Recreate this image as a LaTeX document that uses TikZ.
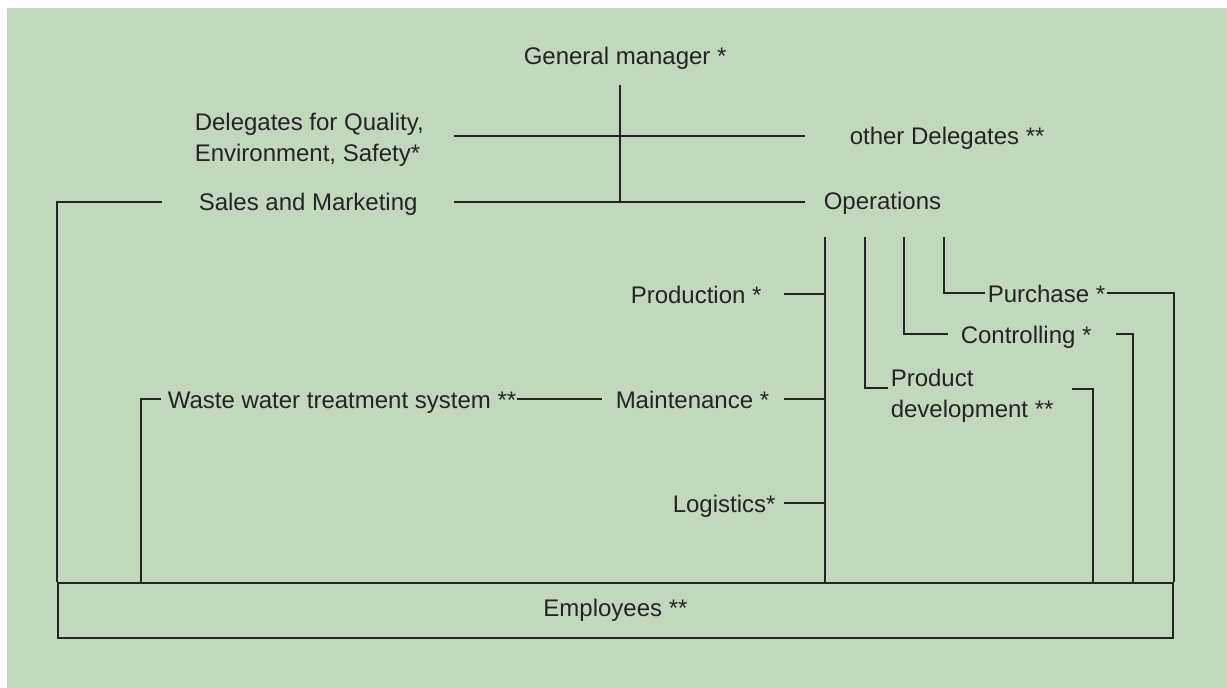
\documentclass[tikz,border=0pt]{standalone}
\usepackage{fontspec}
\setmainfont{Liberation Sans}
\usepackage{tikz}
\usetikzlibrary{positioning,calc}

\definecolor{bggreen}{RGB}{193,216,189}
\definecolor{ink}{RGB}{36,36,36}

\begin{document}
\begin{tikzpicture}[x=1bp,y=-1bp,
	line width=1.5bp, draw=ink,
	lbl/.style={inner sep=0pt, text=ink, font=\fontsize{24bp}{31bp}\selectfont},
	boxlbl/.style={lbl, draw, minimum width=1115bp, minimum height=55bp}]

	\useasboundingbox (0,0) rectangle (1227,688);
	\fill[white] (0,0) rectangle (1227,688);
	\fill[bggreen] (7,8) rectangle (1227,688);

	% labels
	\node[lbl, anchor=base west] (gm) at (523,65) {General manager *};
	\node[lbl, anchor=north west, align=left] (qes) at (194,112) {Delegates for Quality,\\Environment, Safety*};
	\node[lbl, anchor=base west] (other) at (849,145) {other Delegates **};
	\node[lbl, anchor=base west] (sales) at (198,211) {Sales and Marketing};
	\node[lbl, anchor=base west] (ops) at (823,210) {Operations};

	\node[lbl, anchor=base west] (prod) at (630,303) {Production *};
	\node[lbl, anchor=base west] (maint) at (615,408) {Maintenance *};
	\node[lbl, anchor=base west] (logi) at (672,512) {Logistics*};
	\node[lbl, anchor=base west] (waste) at (167,408) {Waste water treatment system **};

	\node[lbl, anchor=base west] (purch) at (987,302) {Purchase *};
	\node[lbl, anchor=base west] (ctrl) at (960,343) {Controlling *};
	\node[lbl, anchor=north west, align=left] (pdev) at (890,368) {Product\\development **};

	\node[boxlbl] (emp) at (615.5,610.5) {Employees **};

	% line ends
	\coordinate (gm-b) at (620,85);
	\coordinate (qes-r) at (454,136);
	\coordinate (oth-l) at (805,136);
	\coordinate (sm-l) at (162,202);
	\coordinate (sm-r) at (454,202);
	\coordinate (op-l) at (805,202);

	\coordinate (ops-1) at (825,237);
	\coordinate (ops-2) at (865,237);
	\coordinate (ops-3) at (904,237);
	\coordinate (ops-4) at (944,237);

	\coordinate (pr-r) at (784,294);
	\coordinate (mt-r) at (784,399);
	\coordinate (mt-l) at (602,399);
	\coordinate (ww-l) at (161,399);
	\coordinate (ww-c) at (141,399);
	\coordinate (lg-r) at (784,503);

	\coordinate (ct-l) at (948,334);
	\coordinate (ct-r) at (1116,334);
	\coordinate (ct-c) at (1133,334);
	\coordinate (pd-l) at (888,388);
	\coordinate (pd-r) at (1072,389);
	\coordinate (pd-c) at (1093,389);

	% top level
	\draw (gm-b) -- (gm-b |- sm-r);
	\draw (qes-r) -- (oth-l);
	\draw (sm-r) -- (op-l);
	\draw (sm-l) -| (emp.north west);

	% operations
	\draw (ops-1) -- (ops-1 |- emp.north);
	\draw (pr-r) -- (pr-r -| ops-1);
	\draw (mt-r) -- (mt-r -| ops-1);
	\draw (lg-r) -- (lg-r -| ops-1);
	\draw (waste.east |- mt-l) -- (mt-l);
	\draw (ww-l) -- (ww-c) -- (ww-c |- emp.north);

	\draw (ops-2) |- (pd-l);
	\draw (ops-3) |- (ct-l);
	\draw (ops-4) |- ([xshift=-2bp]purch.west |- 0,293);

	\draw ([xshift=1bp]purch.east |- 0,293) -| (emp.north east);
	\draw (ct-r) -- (ct-c) -- (ct-c |- emp.north);
	\draw (pd-r) -- (pd-c) -- (pd-c |- emp.north);

\end{tikzpicture}
\end{document}
